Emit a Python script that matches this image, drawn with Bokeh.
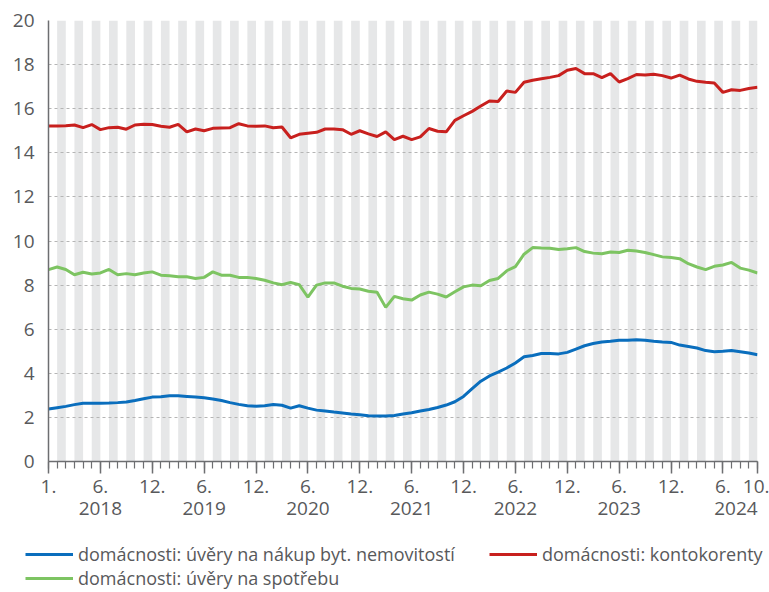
from bokeh.plotting import figure
from bokeh.layouts import column
from bokeh.models import (Range1d, FixedTicker, LinearAxis, Legend, LegendItem)
from bokeh.embed import file_html
from bokeh.resources import INLINE

# ---- data (month-end values, Dec 2017 .. Oct 2024) ----
hypo = [2.38, 2.44, 2.5, 2.58, 2.64, 2.64, 2.64, 2.65, 2.67, 2.7, 2.77, 2.85, 2.92, 2.94, 2.98, 2.98,
        2.95, 2.92, 2.89, 2.83, 2.77, 2.67, 2.59, 2.53, 2.51, 2.53, 2.58, 2.55, 2.42, 2.53, 2.42, 2.33,
        2.29, 2.24, 2.2, 2.15, 2.12, 2.08, 2.06, 2.06, 2.09, 2.15, 2.21, 2.29, 2.36, 2.45, 2.56, 2.71,
        2.95, 3.3, 3.64, 3.88, 4.05, 4.24, 4.47, 4.75, 4.81, 4.9, 4.9, 4.88, 4.95, 5.1, 5.25, 5.35,
        5.42, 5.45, 5.5, 5.5, 5.52, 5.5, 5.45, 5.42, 5.4, 5.28, 5.22, 5.15, 5.03, 4.98, 5.0, 5.03,
        4.98, 4.92, 4.84]
konto = [15.22, 15.22, 15.23, 15.26, 15.14, 15.28, 15.05, 15.14, 15.16, 15.07, 15.26, 15.29, 15.28,
         15.2, 15.16, 15.29, 14.95, 15.08, 15.0, 15.11, 15.13, 15.14, 15.32, 15.22, 15.2, 15.22, 15.14,
         15.17, 14.68, 14.84, 14.89, 14.93, 15.08, 15.08, 15.05, 14.84, 15.0, 14.86, 14.74, 14.95, 14.6,
         14.75, 14.6, 14.72, 15.1, 14.98, 14.95, 15.47, 15.68, 15.88, 16.12, 16.35, 16.33, 16.8, 16.74,
         17.2, 17.29, 17.36, 17.42, 17.5, 17.74, 17.82, 17.59, 17.59, 17.41, 17.59, 17.21, 17.36, 17.55,
         17.53, 17.56, 17.5, 17.39, 17.52, 17.35, 17.24, 17.2, 17.17, 16.74, 16.86, 16.83, 16.92, 16.97]
spotr = [8.7, 8.82, 8.71, 8.47, 8.58, 8.5, 8.55, 8.71, 8.47, 8.52, 8.47, 8.55, 8.6, 8.45, 8.42, 8.38,
         8.38, 8.3, 8.35, 8.6, 8.45, 8.45, 8.35, 8.35, 8.3, 8.22, 8.1, 8.02, 8.12, 8.02, 7.45, 8.0, 8.1,
         8.1, 7.95, 7.85, 7.82, 7.72, 7.68, 6.99, 7.49, 7.38, 7.32, 7.55, 7.68, 7.59, 7.46, 7.7, 7.92,
         8.0, 7.97, 8.21, 8.3, 8.65, 8.84, 9.4, 9.7, 9.68, 9.67, 9.61, 9.65, 9.7, 9.52, 9.45, 9.42, 9.5,
         9.48, 9.58, 9.55, 9.48, 9.38, 9.28, 9.25, 9.2, 8.97, 8.82, 8.7, 8.85, 8.91, 9.03, 8.77, 8.68, 8.55]

month_ticks = [0, 6, 12, 18, 24, 30, 36, 42, 48, 54, 60, 66, 72, 78, 82]
month_labels = ["1.", "6.", "12.", "6.", "12.", "6.", "12.", "6.", "12.", "6.", "12.", "6.", "12.", "6.", "10."]
years = ["2018", "2019", "2020", "2021", "2022", "2023", "2024"]
year_pos = [6, 18, 30, 42, 54, 66, 79.5]
series_names = ["domácnosti: úvěry na nákup byt. nemovitostí", "domácnosti: kontokorenty",
                "domácnosti: úvěry na spotřebu"]
colors = ["#0a6ebd", "#c8201e", "#7dc462"]
series = [hypo, konto, spotr]

n_months = len(hypo) - 1
xs = list(range(len(hypo)))

FONT = "Open Sans"
TXT = "#58595b"
AX = "#6d6e71"

p = figure(width=769, height=540, output_backend="svg", toolbar_location=None,
           x_range=Range1d(0, n_months), y_range=Range1d(0, 20),
           min_border_left=48, min_border_right=12, min_border_top=20, min_border_bottom=79)
p.outline_line_color = None
p.background_fill_color = "white"
p.frame_align = False

# alternating month stripes
stripe_x = [i + 0.5 for i in range(1, n_months, 2)]
p.vbar(x=stripe_x, width=1, top=20, bottom=0, fill_color="#e6e7e8", line_color=None, level="image")

# grid
p.xgrid.visible = False
p.ygrid.grid_line_color = "#b5b5b5"
p.ygrid.grid_line_dash = "3 3"
p.ygrid.grid_line_width = 1

# y axis
p.yaxis.ticker = FixedTicker(ticks=list(range(0, 21, 2)))
p.yaxis.major_tick_out = 0
p.yaxis.major_tick_in = 0
p.yaxis.minor_tick_line_color = None
p.yaxis.axis_line_color = AX
p.yaxis.axis_line_width = 1.5
p.yaxis.major_label_standoff = 14
p.yaxis.major_label_text_font = FONT
p.yaxis.major_label_text_font_size = "19px"
p.yaxis.major_label_text_color = TXT

# x axis (months)
xa = p.xaxis[0]
xa.ticker = FixedTicker(ticks=month_ticks, minor_ticks=list(range(n_months + 1)))
xa.major_label_overrides = {t: l for t, l in zip(month_ticks, month_labels)}
xa.axis_line_color = AX
xa.axis_line_width = 1.5
xa.major_tick_line_color = AX
xa.major_tick_line_width = 1.5
xa.minor_tick_line_color = AX
xa.minor_tick_line_width = 1.2
xa.major_tick_out = 12
xa.major_tick_in = 0
xa.minor_tick_out = 7
xa.minor_tick_in = 0
xa.major_label_standoff = 6
xa.major_label_text_font = FONT
xa.major_label_text_font_size = "19px"
xa.major_label_text_color = TXT

# year axis
ya = LinearAxis(ticker=FixedTicker(ticks=year_pos, minor_ticks=[]),
                major_label_overrides={pp: y for pp, y in zip(year_pos, years)})
ya.axis_line_color = None
ya.major_tick_line_color = None
ya.minor_tick_line_color = None
ya.major_tick_out = 0
ya.major_label_standoff = 6
ya.major_label_text_font = FONT
ya.major_label_text_font_size = "19px"
ya.major_label_text_color = TXT
p.add_layout(ya, "below")

# lines
for s, c in zip(series, colors):
    p.line(xs, s, line_color=c, line_width=3)

# legend strip (same series; its view range lies below the data, so only the legend shows)
q = figure(width=769, height=52, output_backend="svg", toolbar_location=None,
           x_axis_location=None, y_axis_location=None,
           x_range=Range1d(0, n_months), y_range=Range1d(-2, -1),
           min_border_left=0, min_border_right=0, min_border_top=0, min_border_bottom=0)
q.grid.visible = False
q.outline_line_color = None
q.frame_align = False
lr = [q.line(xs, s, line_color=c, line_width=3) for s, c in zip(series, colors)]

def mk_legend(items, loc):
    lg = Legend(items=items, location=loc, orientation="horizontal")
    lg.border_line_color = None
    lg.background_fill_alpha = 0
    lg.padding = 0
    lg.margin = 0
    lg.spacing = 34
    lg.glyph_width = 48
    lg.glyph_height = 20
    lg.label_height = 20
    lg.label_standoff = 5
    lg.label_text_font = FONT
    lg.label_text_font_size = "18px"
    lg.label_text_color = TXT
    return lg

lg1 = mk_legend([LegendItem(label=series_names[0], renderers=[lr[0]]),
                 LegendItem(label=series_names[1], renderers=[lr[1]])], (25, 26))
lg2 = mk_legend([LegendItem(label=series_names[2], renderers=[lr[2]])], (25, 2))
q.add_layout(lg1, "center")
q.add_layout(lg2, "center")

open("out.html", "w").write(file_html(column(p, q, spacing=0), INLINE))
